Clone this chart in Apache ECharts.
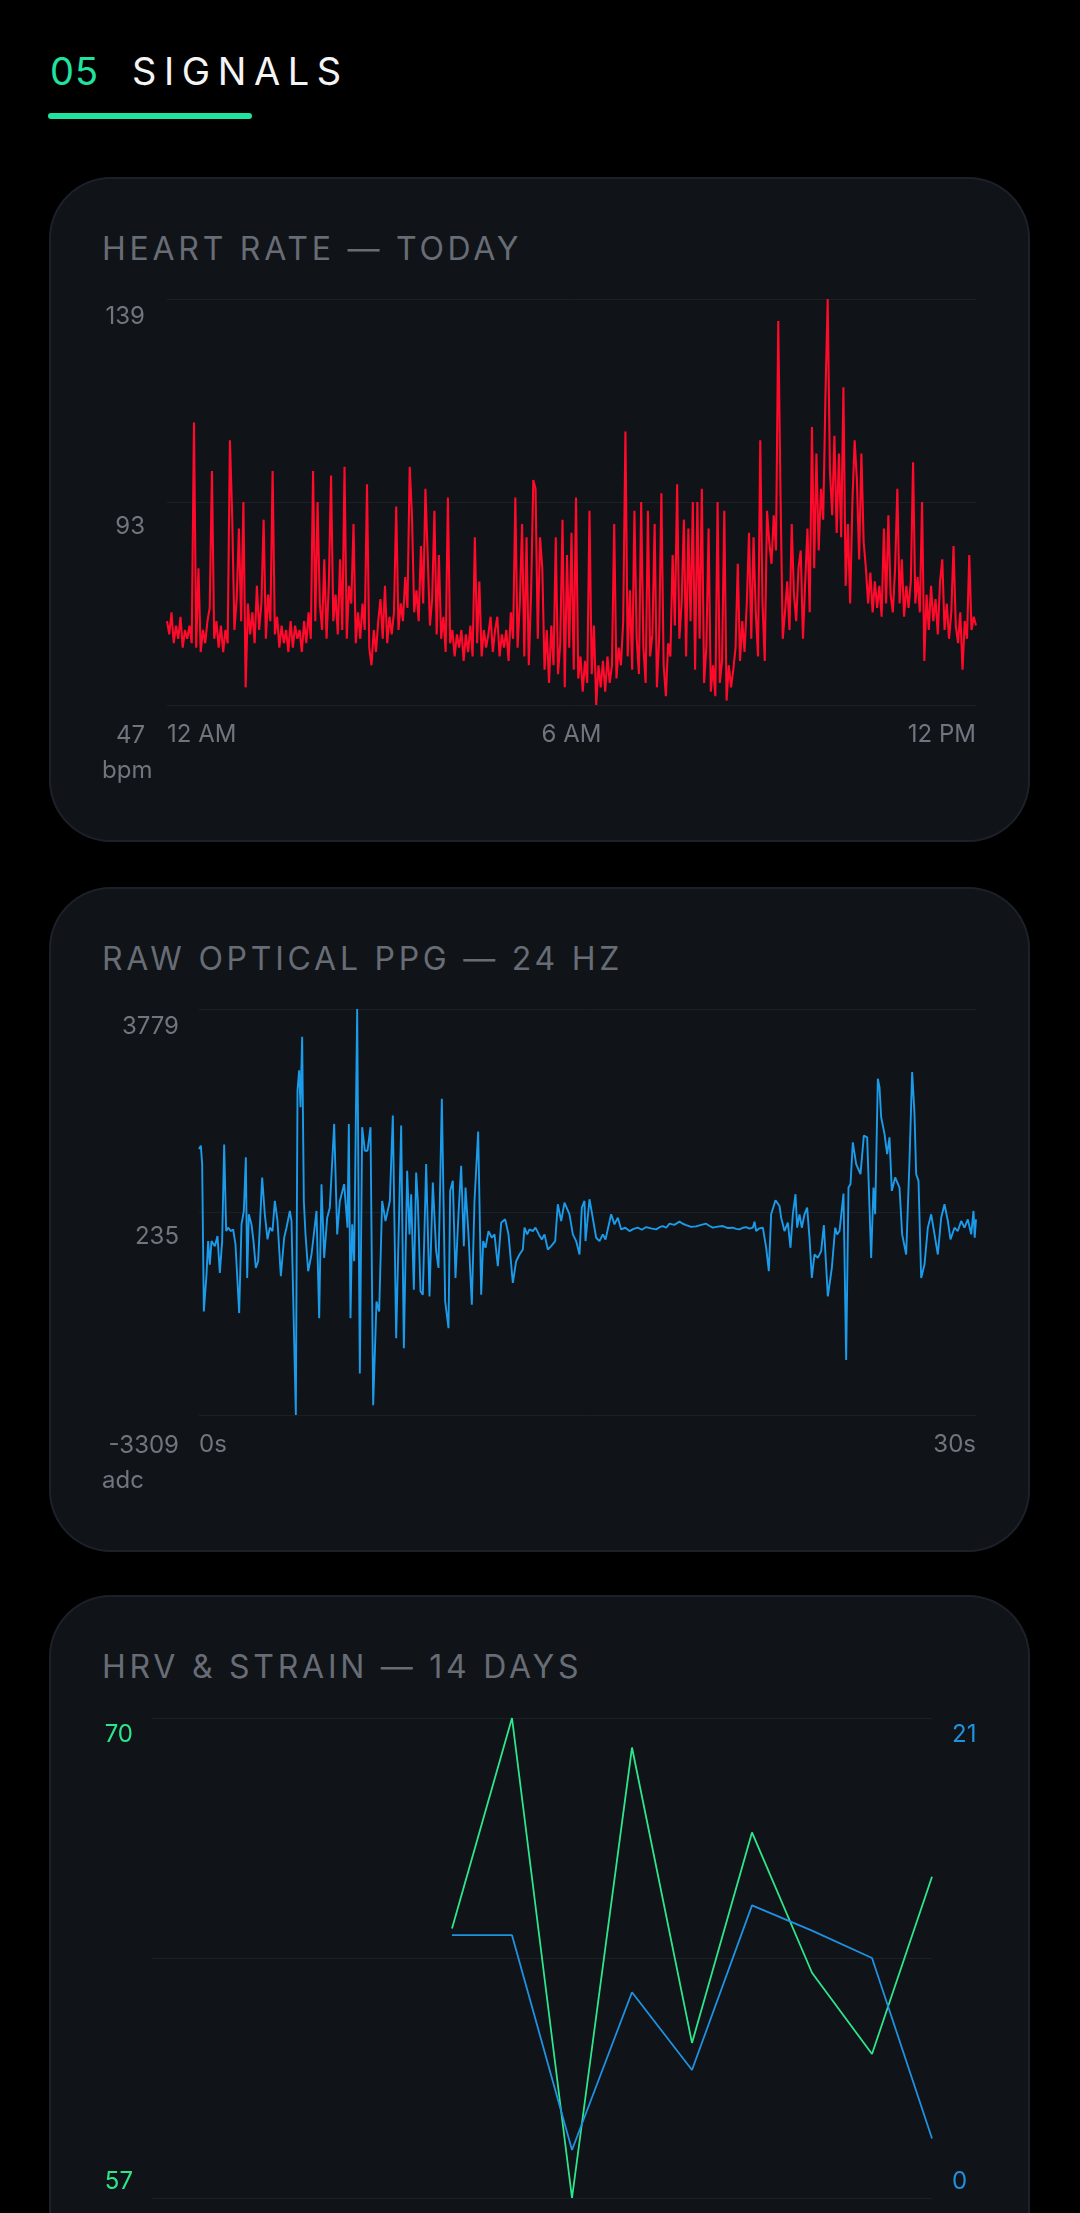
<!DOCTYPE html>
<html>
<head>
<meta charset="utf-8">
<script src="https://cdn.jsdelivr.net/npm/echarts@6/dist/echarts.min.js"></script>
<style>
  html, body { margin: 0; padding: 0; background: #000; width: 1080px; height: 2213px; overflow: hidden; font-family: Inter, "Noto Sans", sans-serif; }
  .num { position: absolute; left: 50px; top: 52px; font-size: 38px; line-height: 38px; color: #20e3a0; letter-spacing: 1px; }
  .head { position: absolute; left: 132px; top: 52px; font-size: 38px; line-height: 38px; color: #f4f4f4; letter-spacing: 7.6px; }
  .bar { position: absolute; left: 48px; top: 113px; width: 204px; height: 6px; border-radius: 3px; background: #20e3a0; }
  .card { position: absolute; left: 49px; width: 981px; height: 665px; background: #101318; border-radius: 62px; box-shadow: inset 0 0 0 2px #1c2028; overflow: hidden; }
  .ttl { position: absolute; left: 53px; top: 56px; font-size: 32px; line-height: 32px; letter-spacing: 3.75px; color: #676c75; white-space: nowrap; }
  .chart { position: absolute; left: 0; top: 0; width: 981px; height: 665px; }
</style>
</head>
<body>
<div class="num">05</div>
<div class="head">SIGNALS</div>
<div class="bar"></div>

<div class="card" style="top:177px"><div class="ttl">HEART RATE — TODAY</div><div id="hr" class="chart"></div></div>
<div class="card" style="top:887px"><div class="ttl">RAW OPTICAL PPG — 24 HZ</div><div id="ppg" class="chart"></div></div>
<div class="card" style="top:1595px;height:760px"><div class="ttl">HRV &amp; STRAIN — 14 DAYS</div><div id="hrv" class="chart" style="height:760px"></div></div>

<script>
// ---------- Heart rate (one reading every 2 minutes, 12 AM -> 12 PM) ----------
const HR_STEP_MIN = 2;
const HR_BPM = [
  66,63,68,61,65,62,67,60,64,62,
  65,61,111,60,78,59,64,61,66,69,
  100,62,66,60,65,59,64,61,107,90,
  64,71,87,66,93,51,70,63,68,61,
  74,64,70,89,62,72,66,100,63,67,
  60,65,61,64,59,66,60,65,62,64,
  59,66,61,68,62,100,66,93,70,64,
  80,62,74,99,66,72,63,80,64,101,
  62,74,70,88,61,68,62,70,64,97,
  60,56,64,59,66,71,62,74,61,67,
  63,68,92,64,70,66,76,69,101,90,
  68,73,66,83,70,96,81,65,71,91,
  63,81,62,67,59,94,61,64,58,63,
  60,64,57,63,59,65,58,85,61,75,
  58,64,60,63,67,59,64,67,58,63,
  60,64,57,68,62,94,60,70,88,58,
  85,56,72,98,96,62,85,78,55,64,
  52,65,56,85,54,61,89,51,81,60,
  86,55,94,53,58,50,57,52,91,54,
  65,47,56,51,57,50,58,52,56,88,
  53,60,56,66,109,58,73,55,91,62,
  54,93,60,52,91,58,63,88,51,62,
  95,56,49,61,58,81,65,97,62,70,
  89,58,87,66,93,55,93,62,96,52,
  60,87,50,56,49,93,52,57,91,48,
  56,51,55,60,79,57,66,59,70,86,
  62,85,68,58,107,70,57,91,84,79,
  90,82,134,95,62,68,75,64,88,72,
  66,78,82,62,75,87,68,110,78,104,
  82,96,89,117,139,100,90,108,86,104,
  85,119,74,88,70,93,107,98,80,104,
  84,78,70,77,68,75,69,74,67,87,
  70,90,72,68,78,96,70,80,67,74,
  69,75,102,70,76,68,93,57,72,64,
  74,66,71,63,75,80,64,70,62,68,
  83,65,61,68,55,66,62,81,64,67,65
];
const HR_Y_TICKS = [47, 93, 139];
const HR_X_TICKS = [0, 360, 720];
const HR_X_LABELS = ['12 AM', '6 AM', '12 PM'];

// ---------- Raw PPG (seconds, adc) ----------
const PPG_T = [
  0,0.071,0.122,0.187,0.290,0.354,0.418,0.483,0.611,0.714,0.804,0.894,0.972,1.049,1.126,1.229,1.319,1.409,1.551,1.641,
  1.731,1.808,1.860,1.924,2.027,2.104,2.194,2.284,2.439,2.542,2.645,2.735,2.838,2.928,3.031,3.160,3.288,3.378,3.507,3.571,
  3.739,3.803,3.867,3.919,3.983,4.048,4.112,4.215,4.344,4.537,4.640,4.730,4.833,4.949,5.051,5.219,5.335,5.438,5.605,5.734,
  5.785,5.849,5.914,5.991,6.107,6.210,6.300,6.403,6.506,6.622,6.725,6.853,6.956,7.072,7.201,7.368,
  7.484,7.613,7.806,7.909,8.037,8.127,8.192,8.295,8.385,8.449,8.552,8.642,8.771,8.900,9.028,9.157,9.247,9.376,9.505,9.633,
  9.698,9.800,9.903,10.019,10.122,10.225,10.290,10.405,10.534,10.637,10.779,10.895,10.972,11.062,11.178,11.306,11.409,11.538,11.667,11.821,
  11.950,12.117,12.246,12.375,12.503,12.568,12.671,12.761,12.889,12.992,13.121,13.237,13.340,13.468,13.597,13.752,13.854,13.983,14.112,14.305,
  14.434,14.562,14.691,14.781,14.884,
  14.923,15.077,15.180,15.335,15.463,15.592,15.695,15.914,16.042,16.171,16.300,16.460,16.622,16.780,16.943,17.100,17.265,17.450,17.651,17.780,
  17.909,18.040,18.166,18.350,18.552,18.680,18.810,19.000,19.196,19.390,19.582,19.700,19.839,20.030,20.225,20.420,20.611,20.740,20.869,21.000,
  21.126,21.250,21.384,21.448,21.512,21.640,21.770,21.899,22.001,22.091,22.259,22.413,
  22.477,22.606,22.735,22.838,22.928,23.031,23.095,23.185,23.275,23.378,23.481,23.571,23.661,23.764,23.893,24.022,24.125,24.279,24.434,24.563,
  24.639,24.730,24.884,24.987,25.077,25.154,25.244,25.373,25.541,25.669,25.798,25.952,26.042,26.107,26.210,26.274,26.339,26.467,26.570,26.660,
  26.750,26.879,27.046,27.149,27.304,27.432,27.535,27.625,27.690,27.780,27.883,28.012,28.140,28.269,28.398,28.526,28.655,28.784,28.913,29.015,
  29.170,29.298,29.427,29.556,29.685,29.814,29.904,29.950,30.000
];
const PPG_V = [
  1335,1393,1072,-1501,-858,-273,-683,-273,-361,-186,-829,-273,1411,-98,-39,-98,-69,-332,-1530,19,
  253,1189,-916,195,19,-273,-741,-624,838,195,-244,-39,-98,428,78,-887,-215,-39,253,78,
  -3309,2358,2709,2066,3293,428,-156,-799,-507,253,-1618,721,-566,136,311,1773,-156,428,721,-39,
  1773,-1618,19,-624,3779,-2583,1715,1305,1305,1715,-3138,-1326,-1501,428,78,428,
  1919,-1969,1744,-2144,955,-156,545,-1121,925,428,-1150,-1209,1072,-1238,750,-449,-741,2212,-1326,-1793,
  604,779,-916,195,1042,-361,662,-156,-1384,428,1639,-1209,-273,-390,-98,-215,-156,-712,48,107,
  -156,-1004,-624,-507,-419,-39,-156,-69,-98,-39,-156,-244,-156,-419,-361,-273,370,78,399,195,
  -156,-273,-507,311,428,
  -273,458,195,-215,-273,-156,-244,195,19,136,-69,-40,-98,-60,-39,-75,-28,-50,-69,-30,
  -10,-40,31,10,66,30,7,-25,-16,10,31,-5,-39,-20,-10,-45,-39,-60,-69,-40,
  -28,-55,-39,66,-98,-50,-39,-390,-799,195,440,341,
  136,-98,48,-390,195,545,-39,195,-39,195,311,-215,-916,-507,-566,-449,7,-1238,-741,-39,
  -156,-98,557,-2349,662,721,1452,1072,896,1569,1539,-566,662,195,2563,2416,1890,1598,1247,1539,
  604,838,662,-156,-507,1130,2680,1949,896,779,-916,-683,-39,195,-156,-507,136,370,78,-244,
  -39,-98,78,-39,107,-156,253,-215,107
];
const PPG_Y_TICKS = [-3309, 235, 3779];
const PPG_X_TICKS = [0, 30];
const PPG_X_LABELS = ['0s', '30s'];

// ---------- HRV & strain, 14 days ----------
const DAYS = ['1','2','3','4','5','6','7','8','9','10','11','12','13','14'];
const HRV_MS = [null,null,null,null,null,64.3,70,57,69.2,61.2,66.9,63.1,60.9,65.7];
const STRAIN = [null,null,null,null,null,11.5,11.5,2.1,9.0,5.6,12.8,11.7,10.5,2.6];
const HRV_TICKS = [57, 70];
const STRAIN_TICKS = [0, 21];

// ---------- common styling ----------
const FONT = 'Inter, "Noto Sans", sans-serif';
const LABEL_GREY = '#70757e';
const GRID_LINE = '#1b1f26';

function tickLabel(color, pads, texts) {
  const rich = {};
  pads.forEach((p, i) => {
    rich['p' + i] = { color: color, fontSize: 24, fontFamily: FONT, padding: p };
  });
  return {
    color: color, fontSize: 24, fontFamily: FONT,
    formatter: (v, i) => {
      const t = texts ? texts(v, i) : String(v);
      return t === '' ? '' : '{p' + i + '|' + t + '}';
    },
    rich: rich
  };
}

function valueY(ticks, color, pads, margin, texts) {
  const lab = tickLabel(color, pads, texts);
  lab.margin = margin;
  return {
    type: 'value',
    min: ticks[0], max: ticks[ticks.length - 1],
    interval: (ticks[ticks.length - 1] - ticks[0]) / 2,
    axisLine: { show: false }, axisTick: { show: false },
    splitLine: { show: true, lineStyle: { color: GRID_LINE, width: 1 } },
    axisLabel: lab
  };
}

function valueX(ticks, labels) {
  return {
    type: 'value',
    min: ticks[0], max: ticks[ticks.length - 1],
    interval: ticks[1] - ticks[0],
    axisLine: { show: false }, axisTick: { show: false }, splitLine: { show: false },
    axisLabel: {
      color: LABEL_GREY, fontSize: 24, fontFamily: FONT, margin: 18,
      alignMinLabel: 'left', alignMaxLabel: 'right',
      formatter: (v) => labels[ticks.indexOf(v)]
    }
  };
}

function unitText(text) {
  return [{ type: 'text', left: 53, top: 582, style: { text: text, fill: LABEL_GREY, fontSize: 24, fontFamily: FONT } }];
}

// Heart rate chart
const hr = echarts.init(document.getElementById('hr'), null, { renderer: 'canvas' });
hr.setOption({
  animation: false,
  backgroundColor: 'transparent',
  grid: { left: 118, right: 54, top: 122, bottom: 137 },
  xAxis: valueX(HR_X_TICKS, HR_X_LABELS),
  yAxis: valueY(HR_Y_TICKS, LABEL_GREY, [[61,0,0,0],[49,0,0,0],[36,0,0,0]], 22),
  graphic: unitText('bpm'),
  series: [{
    type: 'line', showSymbol: false, symbol: 'none', sampling: false,
    data: HR_BPM.map((v, i) => [i * HR_STEP_MIN, v]),
    lineStyle: { color: '#ff0a2a', width: 2.1 }
  }]
});

// PPG chart
const ppg = echarts.init(document.getElementById('ppg'), null, { renderer: 'canvas' });
ppg.setOption({
  animation: false,
  backgroundColor: 'transparent',
  grid: { left: 150, right: 54, top: 122, bottom: 137 },
  xAxis: valueX(PPG_X_TICKS, PPG_X_LABELS),
  yAxis: valueY(PPG_Y_TICKS, LABEL_GREY, [[61,0,0,0],[49,0,0,0],[36,0,0,0]], 20),
  graphic: unitText('adc'),
  series: [{
    type: 'line', showSymbol: false, symbol: 'none',
    data: PPG_T.map((t, i) => [t, PPG_V[i]]),
    lineStyle: { color: '#1b9be9', width: 1.9 }
  }]
});

// HRV & strain chart
const hrv = echarts.init(document.getElementById('hrv'), null, { renderer: 'canvas' });
const midHidden = (v, i) => (i === 1 ? '' : String(v));
const leftAxis = valueY([HRV_TICKS[0], (HRV_TICKS[0] + HRV_TICKS[1]) / 2, HRV_TICKS[1]], '#2ee68a', [[0,0,33,0],[0,0,0,0],[34,0,0,0]], 19, midHidden);
const rightAxis = valueY([STRAIN_TICKS[0], (STRAIN_TICKS[0] + STRAIN_TICKS[1]) / 2, STRAIN_TICKS[1]], '#1e92e0', [[0,0,33,0],[0,0,0,0],[34,0,0,0]], 20, midHidden);
rightAxis.position = 'right';
rightAxis.splitLine = { show: false };
hrv.setOption({
  animation: false,
  backgroundColor: 'transparent',
  grid: { left: 103, right: 98, top: 123, bottom: 157 },
  xAxis: {
    type: 'category', data: DAYS, boundaryGap: false,
    axisLine: { show: false }, axisTick: { show: false }, splitLine: { show: false },
    axisLabel: { show: false }
  },
  yAxis: [leftAxis, rightAxis],
  series: [
    { type: 'line', name: 'HRV', yAxisIndex: 0, data: HRV_MS, showSymbol: false, symbol: 'none',
      lineStyle: { color: '#2ee68a', width: 1.8 } },
    { type: 'line', name: 'Strain', yAxisIndex: 1, data: STRAIN, showSymbol: false, symbol: 'none',
      lineStyle: { color: '#1e92e0', width: 1.8 } }
  ]
});
</script>
</body>
</html>
